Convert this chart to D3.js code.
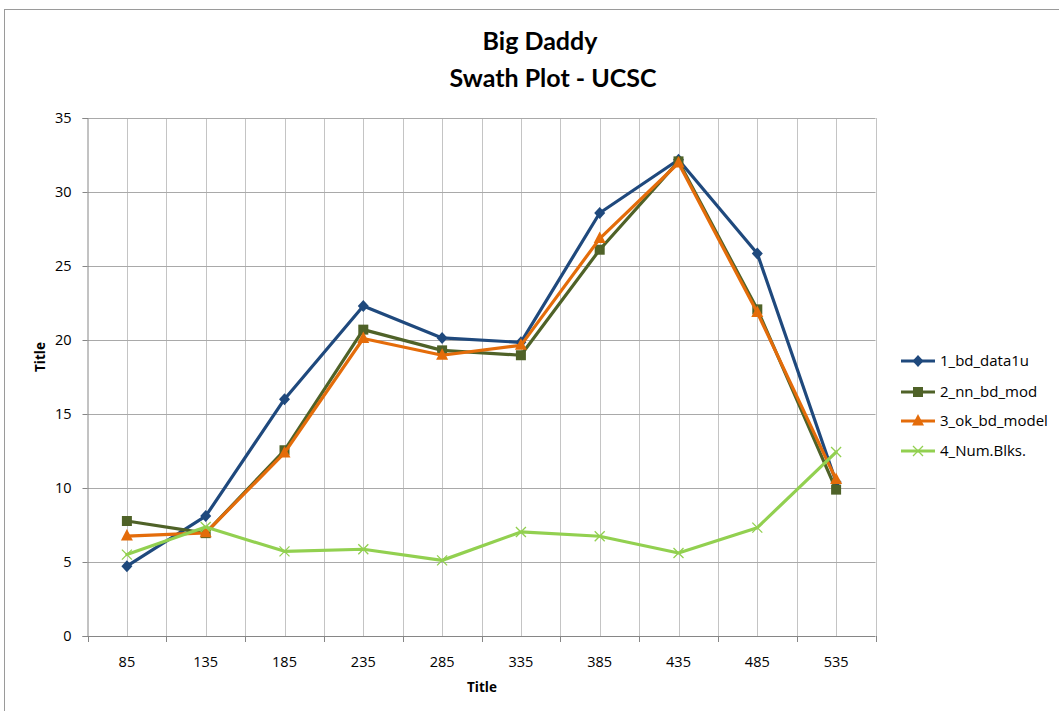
<!DOCTYPE html>
<html>
<head>
<meta charset="utf-8">
<script src="https://cdn.jsdelivr.net/npm/d3@7/dist/d3.min.js"></script>
<style>
  html, body { margin: 0; padding: 0; background: #fff; }
  svg { display: block; font-family: "Open Sans", Lato, sans-serif; }
</style>
</head>
<body>
<svg id="chart" width="1059" height="711"></svg>
<script>
// Swath plot values by distance bin
const categories = ["85", "135", "185", "235", "285", "335", "385", "435", "485", "535"];
const seriesNames = ["1_bd_data1u", "2_nn_bd_mod", "3_ok_bd_model", "4_Num.Blks."];
const bdData1u  = [4.72, 8.1, 16.0, 22.3, 20.14, 19.84, 28.58, 32.18, 25.84, 10.4];
const nnBdMod   = [7.77, 6.95, 12.55, 20.7, 19.3, 18.97, 26.1, 32.07, 22.07, 9.89];
const okBdModel = [6.75, 6.97, 12.37, 20.1, 18.97, 19.64, 26.85, 31.96, 21.85, 10.57];
const numBlks   = [5.5, 7.36, 5.72, 5.86, 5.11, 7.03, 6.74, 5.61, 7.32, 12.43];
const yTicks = [0, 5, 10, 15, 20, 25, 30, 35];
const colors = ["#1f497d", "#4f6228", "#e46c0a", "#92d050"];
const markers = ["diamond", "square", "triangle", "cross"];

const seriesValues = [bdData1u, nnBdMod, okBdModel, numBlks];

const svg = d3.select("#chart");
const plot = { left: 87.5, right: 875.5, top: 118, bottom: 636 };

// chart area frame
svg.append("rect")
  .attr("x", 4.5).attr("y", 9.5).attr("width", 1200).attr("height", 900)
  .attr("fill", "#fff").attr("stroke", "#9a9a9a").attr("stroke-width", 1);

const x = d3.scaleBand().domain(categories).range([plot.left, plot.right]).padding(0);
const y = d3.scaleLinear().domain([0, 35]).range([plot.bottom, plot.top]);
const cx = c => x(c) + x.bandwidth() / 2;

// vertical gridlines: band edges and band centres
const vLines = [];
categories.forEach(c => { vLines.push(x(c)); vLines.push(cx(c)); });
vLines.push(plot.right);
svg.append("g").selectAll("line").data(vLines.slice(1)).join("line")
  .attr("x1", d => Math.round(d) + 0.5).attr("x2", d => Math.round(d) + 0.5)
  .attr("y1", plot.top).attr("y2", plot.bottom)
  .attr("stroke", "#c4c4c4").attr("stroke-width", 1);

// horizontal gridlines
svg.append("g").selectAll("line").data(yTicks.filter(t => t > 0)).join("line")
  .attr("x1", plot.left).attr("x2", plot.right)
  .attr("y1", d => Math.round(y(d)) + 0.5).attr("y2", d => Math.round(y(d)) + 0.5)
  .attr("stroke", "#a9a9a9").attr("stroke-width", 1);

// y axis
const yAxis = d3.axisLeft(y).tickValues(yTicks).tickSize(5).tickPadding(11).tickFormat(d3.format("d"));
const gy = svg.append("g").attr("transform", `translate(${plot.left},0)`).call(yAxis);
gy.select(".domain").attr("stroke", "#868686");
gy.selectAll(".tick line").attr("stroke", "#868686");
gy.selectAll(".tick text").attr("fill", "#000").style("font-size", "14.5px").style("font-family", "'Open Sans', sans-serif");

// x axis: ticks at band edges, labels at centres
const gx = svg.append("g").attr("transform", `translate(0,${plot.bottom})`);
gx.append("line").attr("x1", plot.left).attr("x2", plot.right).attr("y1", 0.5).attr("y2", 0.5)
  .attr("stroke", "#868686");
const edges = categories.map(c => x(c)).concat([plot.right]);
gx.selectAll("line.tk").data(edges).join("line").attr("class", "tk")
  .attr("x1", d => Math.round(d) + 0.5).attr("x2", d => Math.round(d) + 0.5)
  .attr("y1", 0).attr("y2", 6).attr("stroke", "#868686");
gx.selectAll("text").data(categories).join("text")
  .attr("x", d => cx(d)).attr("y", 31)
  .attr("text-anchor", "middle").style("font-size", "14.5px").attr("fill", "#000")
  .text(d => d);

// axis titles
svg.append("text").attr("x", 482).attr("y", 692).attr("text-anchor", "middle")
  .style("font-size", "13.5px").style("font-weight", "bold").text("Title");
svg.append("text").attr("transform", "translate(45,357) rotate(-90)").attr("text-anchor", "middle")
  .style("font-size", "13.5px").style("font-weight", "bold").text("Title");

// chart title
const title = svg.append("text").attr("text-anchor", "middle").style("font-weight", "bold")
  .style("font-family", "Lato, sans-serif").style("font-size", "25px");
title.append("tspan").attr("x", 540).attr("y", 50).text("Big Daddy");
title.append("tspan").attr("x", 553).attr("y", 87).text("Swath Plot - UCSC");

// marker shapes
function drawMarker(g, type, color, px, py) {
  if (type === "diamond") {
    g.append("path").attr("d", `M${px},${py - 6}L${px + 5.5},${py}L${px},${py + 6}L${px - 5.5},${py}Z`).attr("fill", color);
  } else if (type === "square") {
    g.append("rect").attr("x", px - 5).attr("y", py - 5).attr("width", 10).attr("height", 10).attr("fill", color);
  } else if (type === "triangle") {
    g.append("path").attr("d", `M${px},${py - 7}L${px + 6},${py + 4.5}L${px - 6},${py + 4.5}Z`).attr("fill", color);
  } else {
    g.append("path").attr("d", `M${px - 5},${py - 5}L${px + 5},${py + 5}M${px - 5},${py + 5}L${px + 5},${py - 5}`)
      .attr("stroke", color).attr("stroke-width", 1.3).attr("fill", "none");
  }
}

const line = d3.line().x((d, i) => cx(categories[i])).y(d => y(d));

seriesValues.forEach((vals, s) => {
  const g = svg.append("g");
  g.append("path").attr("d", line(vals)).attr("fill", "none")
    .attr("stroke", colors[s]).attr("stroke-width", 3.2).attr("stroke-linejoin", "round").attr("stroke-linecap", "round");
  vals.forEach((v, i) => drawMarker(g, markers[s], colors[s], cx(categories[i]), y(v)));
});

// legend
const legend = svg.append("g");
const legY = [361, 392, 421, 451];
seriesNames.forEach((name, s) => {
  const g = legend.append("g");
  g.append("line").attr("x1", 901).attr("x2", 935).attr("y1", legY[s]).attr("y2", legY[s])
    .attr("stroke", colors[s]).attr("stroke-width", 3.2);
  drawMarker(g, markers[s], colors[s], 918, legY[s]);
  g.append("text").attr("x", 940).attr("y", legY[s] + 5).style("font-size", "15px").attr("fill", "#000").text(name);
});
</script>
</body>
</html>
